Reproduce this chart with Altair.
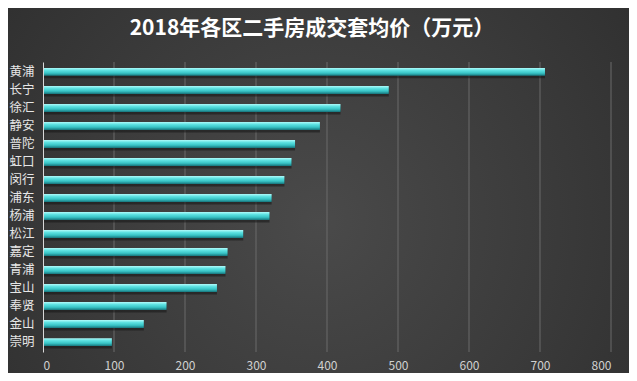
import altair as alt
import pandas as pd

districts = ["黄浦", "长宁", "徐汇", "静安", "普陀", "虹口", "闵行", "浦东",
             "杨浦", "松江", "嘉定", "青浦", "宝山", "奉贤", "金山", "崇明"]
prices = [707, 487, 419, 390, 355, 350, 340, 322, 319, 282, 260, 257, 245, 174, 142, 97]
x_ticks = [0, 100, 200, 300, 400, 500, 600, 700, 800]
title_text = "2018年各区二手房成交套均价（万元）"

df = pd.DataFrame({"district": districts, "price": prices})
grid_df = pd.DataFrame({"tick": x_ticks[1:]})
title_df = pd.DataFrame({"t": [title_text]})

W, H = 568, 290
FONT = "Noto Sans CJK SC"

x_scale = alt.Scale(domain=[0, 800], nice=False)
y_scale = alt.Scale(domain=districts, paddingInner=0.56, paddingOuter=0.33)

x_axis = alt.Axis(values=x_ticks, labelFont=FONT, labelFontSize=12,
                  labelColor="#d0d0d0", labelPadding=8, ticks=False,
                  domain=False, grid=False, zindex=1, title=None)
y_axis = alt.Axis(labelFont=FONT, labelFontSize=12.5, labelColor="#e6e6e6",
                  labelPadding=9, ticks=False, domain=True, domainColor="#d8d8d8",
                  domainWidth=1, grid=False, zindex=1, title=None)

bg = alt.Chart(pd.DataFrame({"a": [0]})).mark_rect(
    fill=alt.Gradient(
        gradient="radial",
        stops=[alt.GradientStop(color="#4a4a4a", offset=0),
               alt.GradientStop(color="#2b2b2b", offset=1)],
        x1=0.5, y1=0.55, x2=0.5, y2=0.55, r1=0, r2=0.75),
).encode(x=alt.value(-35), x2=alt.value(W + 18), y=alt.value(-54), y2=alt.value(H + 21))

grid = alt.Chart(grid_df).mark_rule(color="#6a6a6a", strokeWidth=1).encode(
    x=alt.X("tick:Q", scale=x_scale, axis=x_axis)
)

shadow = alt.Chart(df).mark_bar(color="#151515", opacity=0.55).encode(
    y=alt.Y("district:N", scale=y_scale, sort=districts, axis=y_axis),
    x=alt.X("price:Q", scale=x_scale, axis=x_axis),
    yOffset=alt.value(2.5),
)

bars = alt.Chart(df).mark_bar(
    color=alt.Gradient(
        gradient="linear",
        stops=[alt.GradientStop(color="#b0fafa", offset=0),
               alt.GradientStop(color="#5fe2e2", offset=0.3),
               alt.GradientStop(color="#38c4c6", offset=0.65),
               alt.GradientStop(color="#17757c", offset=1)],
        x1=0, y1=0, x2=0, y2=1),
).encode(
    y=alt.Y("district:N", scale=y_scale, sort=districts, axis=y_axis),
    x=alt.X("price:Q", scale=x_scale, axis=x_axis),
    tooltip=["district", "price"],
)

title = alt.Chart(title_df).mark_text(
    font=FONT, fontSize=21, fontWeight="bold", color="#ffffff",
    align="center", baseline="middle",
).encode(text="t:N", x=alt.value(269), y=alt.value(-33))

chart = alt.layer(bg, grid, shadow, bars, title).properties(
    width=W, height=H,
    autosize=alt.AutoSizeParams(type="none"),
    padding={"left": 35, "top": 54, "right": 18, "bottom": 21},
    background="#2e2e2e",
).configure_view(stroke=None)

chart.save("out.html", embed_options={"renderer": "svg", "actions": False})
